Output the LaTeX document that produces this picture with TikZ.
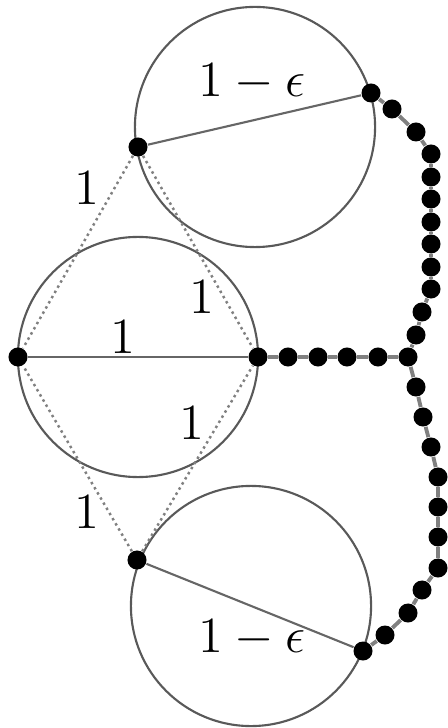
\documentclass[tikz,border=0pt]{standalone}
\usepackage{amsmath,amssymb}
\usepackage{tikz}
\usetikzlibrary{positioning}

\begin{document}
\begin{tikzpicture}[
  x=0.01cm,y=-0.01cm,
  font=\Large,
  ring/.style={draw=black!65, line width=0.6pt, circle, minimum size=2.4cm, inner sep=0pt},
  vtx/.style={circle, fill=black, inner sep=0pt, minimum size=1.9mm},
  bead/.style={vtx},
  edge/.style={draw=black!60, line width=0.6pt},
  unit/.style={draw=black!50, line width=0.7pt, densely dotted},
  chain/.style={draw=black!50, line width=1.1pt}
]
\useasboundingbox (0,0) rectangle (447,728);

% the three circles
\node[ring] (ctop) at (255,127) {};
\node[ring] (cmid) at (138,357) {};
\node[ring] (cbot) at (251,606) {};

% points on the circles
\node[vtx] (pml) at (18,357) {};
\node[vtx] (pmr) at (258,357) {};
\node[vtx] (ptl) at (138,147) {};
\node[vtx] (ptr) at (371,93) {};
\node[vtx] (pbl) at (137,560) {};
\node[vtx] (pbr) at (363,651) {};

% unit distances between the circles
\draw[unit] (ptl) -- (pml);
\draw[unit] (ptl) -- (pmr);
\draw[unit] (pbl) -- (pml);
\draw[unit] (pbl) -- (pmr);

% chords
\draw[edge] (pml) -- (pmr);
\draw[edge] (ptl) -- (ptr);
\draw[edge] (pbl) -- (pbr);

% beaded chains on the right
\node[bead] (j) at (408,357) {};
\foreach \p [count=\i] in {(288,357),(318,357),(347,357),(378,357)}
  \node[bead] (h\i) at \p {};
\foreach \p [count=\i] in {(392,109),(416,132),(431,154),(431,177),(431,199),(431,222),
                           (431,244),(431,267),(431,289),(422,312),(416,335)}
  \node[bead] (u\i) at \p {};
\foreach \p [count=\i] in {(416,387),(423,417),(431,447),(438,477),(438,507),
                           (438,537),(438,568),(422,590),(408,613),(385,635)}
  \node[bead] (w\i) at \p {};

\foreach \a/\b in {pmr/h1,h1/h2,h2/h3,h3/h4,h4/j}
  \draw[chain] (\a) -- (\b);
\foreach \a/\b in {ptr/u1,u1/u2,u2/u3,u3/u4,u4/u5,u5/u6,u6/u7,u7/u8,u8/u9,u9/u10,u10/u11,u11/j}
  \draw[chain] (\a) -- (\b);
\foreach \a/\b in {j/w1,w1/w2,w2/w3,w3/w4,w4/w5,w5/w6,w6/w7,w7/w8,w8/w9,w9/w10,w10/pbr}
  \draw[chain] (\a) -- (\b);

% labels
\node (lbtop) at (252,82) {$1-\epsilon$};
\node (lbbot) at (252,638) {$1-\epsilon$};
\node (lbtl) at (87,188) {$1$};
\node (lbbl) at (87,512) {$1$};
\node (lbdia) at (123,337) {$1$};
\node (lbur) at (202,297) {$1$};
\node (lblr) at (192,423) {$1$};
\end{tikzpicture}
\end{document}
